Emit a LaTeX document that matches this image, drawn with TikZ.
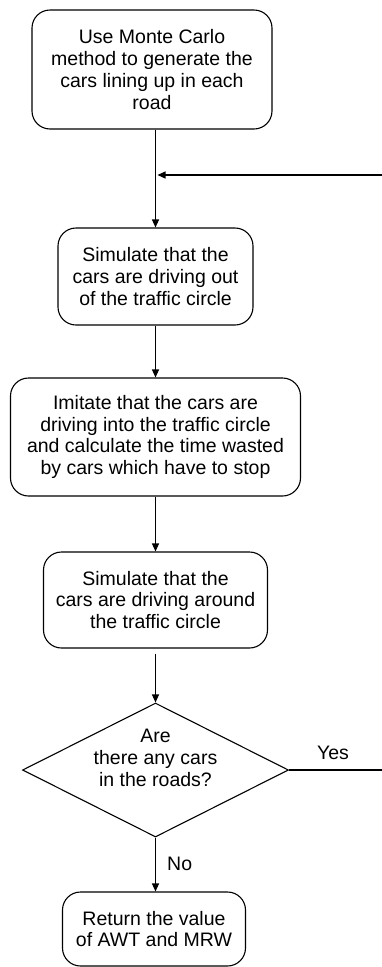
\documentclass[tikz,border=0pt]{standalone}
\usepackage{fontspec}
\setmainfont{Liberation Sans}
\usetikzlibrary{arrows.meta,shapes.geometric}

\tikzset{
  flow/.style={line width=1.1pt, -{Triangle[length=8pt,width=7pt]}},
  plain/.style={line width=1.1pt},
  procbox/.style={draw, line width=1.1pt, rounded corners=18pt, align=center,
    inner sep=0pt, font=\fontsize{19.5}{21.8}\selectfont},
  decision/.style={draw, diamond, line width=1.1pt, inner sep=0pt,
    minimum width=266pt, minimum height=134pt},
  txt/.style={align=center, inner sep=0pt, font=\fontsize{19.5}{21.8}\selectfont}
}

\begin{document}
\begin{tikzpicture}[x=1pt, y=-1pt]
  \useasboundingbox (0,0) rectangle (382,967);

  % process steps
  \node[procbox, minimum width=240pt, minimum height=119pt] (b1) at (152,69.5)
    {Use Monte Carlo\\method to generate the\\cars lining up in each\\road};
  \node[procbox, minimum width=195pt, minimum height=97pt] (b2) at (155.5,276.5)
    {Simulate that the\\cars are driving out\\of the traffic circle};
  \node[procbox, minimum width=290pt, minimum height=118pt] (b3) at (155.5,437)
    {Imitate that the cars are\\driving into the traffic circle\\and calculate the time wasted\\by cars which have to stop};
  \node[procbox, minimum width=224pt, minimum height=96pt] (b4) at (155.5,600)
    {Simulate that the\\cars are driving around\\the traffic circle};

  % decision
  \node[decision] (dec) at (155.5,770) {};
  \node[txt] (dectext) at ([yshift=12pt]dec.center) {Are\\there any cars\\in the roads?};

  % final step
  \node[procbox, minimum width=183pt, minimum height=74pt] (b5) at (154,929)
    {Return the value\\of AWT and MRW};

  % loop ends at the right margin
  \coordinate (loopin) at (382,175);
  \coordinate (loopout) at (382,770);

  % connectors
  \draw[flow] (b2.north |- b1.south) -- (b2.north);
  \draw[flow] (loopin) -- ([xshift=2pt]loopin -| b2.north);
  \draw[flow] (b3.north |- b2.south) -- (b3.north);
  \draw[flow] (b4.north |- b3.south) -- (b4.north);
  \draw[flow] ([yshift=-5pt]b4.south) -- (dec.north);
  \draw[flow] (dec.south) -- (b5.north -| dec.south);
  \draw[plain] (dec.east) -- (loopout);

  % branch labels
  \node[txt, anchor=base] (yes) at (333,759) {Yes};
  \node[txt, anchor=base west] (no) at (167,870) {No};
\end{tikzpicture}
\end{document}
